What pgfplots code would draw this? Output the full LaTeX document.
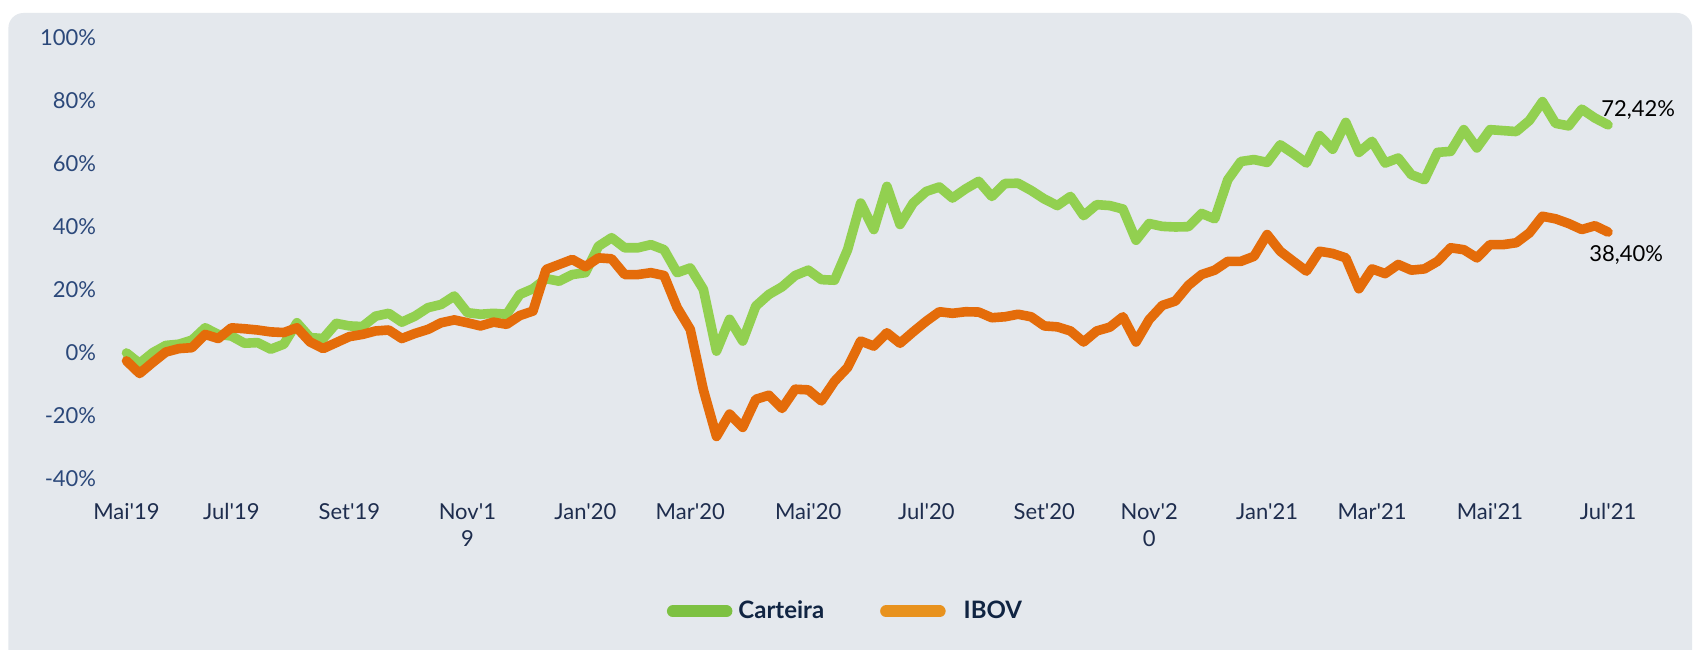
\documentclass[border=0pt]{standalone}
\usepackage{pgfplots}
\pgfplotsset{compat=1.18}
\usepackage{pgfplotstable}
\usepackage{fontspec}
\setmainfont{Lato}[Ligatures=TeXOff]
\definecolor{panel}{RGB}{228,232,237}
\definecolor{cartLine}{RGB}{146,208,80}
\definecolor{ibovLine}{RGB}{228,108,10}
\definecolor{legGreen}{RGB}{125,193,66}
\definecolor{legOrange}{RGB}{232,146,30}
\definecolor{ytext}{RGB}{43,72,122}
\definecolor{xtext}{RGB}{30,45,78}
\definecolor{legtext}{RGB}{16,36,66}

\pgfplotstableread{
k cart ibov
0 0.0 -2.5
1 -3.3 -6.5
2 0.1 -3.0
3 2.4 0.3
4 2.8 1.4
5 4.1 1.7
6 8.0 5.9
7 5.9 4.6
8 5.4 8.0
9 3.1 7.7
10 3.3 7.3
11 1.2 6.7
12 2.8 6.5
13 9.6 8.0
14 4.9 3.5
15 4.6 1.4
16 9.4 3.3
17 8.6 5.2
18 8.4 5.9
19 11.7 7.0
20 12.6 7.3
21 9.8 4.6
22 11.7 6.2
23 14.4 7.5
24 15.4 9.6
25 18.1 10.5
26 12.8 9.6
27 12.3 8.6
28 12.6 9.8
29 12.3 9.1
30 18.6 11.9
31 20.4 13.3
32 23.6 26.5
33 22.8 28.1
34 24.9 29.7
35 25.5 27.4
36 33.9 30.2
37 36.6 29.9
38 33.4 24.9
39 33.4 24.9
40 34.4 25.5
41 32.8 24.6
42 25.5 14.4
43 27.0 7.5
44 20.2 -11.7
45 0.6 -26.5
46 10.7 -19.4
47 3.8 -23.6
48 14.9 -14.7
49 18.6 -13.4
50 21.0 -17.6
51 24.6 -11.5
52 26.3 -11.7
53 23.3 -15.2
54 23.1 -9.0
55 32.8 -4.6
56 47.6 3.8
57 39.2 2.2
58 52.9 6.4
59 40.8 3.1
60 47.6 6.7
61 51.3 10.1
62 52.7 13.1
63 49.2 12.6
64 52.1 13.1
65 54.5 13.0
66 49.7 11.2
67 53.8 11.5
68 53.9 12.3
69 51.6 11.5
70 48.9 8.6
71 46.8 8.3
72 49.7 7.0
73 43.6 3.5
74 47.1 7.0
75 46.8 8.2
76 45.7 11.5
77 35.8 3.5
78 41.1 10.6
79 40.2 15.1
80 40.0 16.5
81 40.1 21.5
82 44.3 24.9
83 42.6 26.3
84 55.0 29.1
85 60.8 29.1
86 61.4 30.7
87 60.5 37.6
88 66.1 32.3
89 63.3 29.1
90 60.3 26.0
91 69.0 32.3
92 64.7 31.6
93 73.2 30.2
94 63.7 20.4
95 67.2 26.7
96 60.3 25.2
97 61.9 28.1
98 56.6 26.3
99 55.0 26.7
100 63.7 29.1
101 64.0 33.4
102 70.9 32.8
103 65.1 30.2
104 70.9 34.4
105 70.6 34.4
106 70.3 35.0
107 73.8 38.1
108 79.8 43.4
109 72.9 42.6
110 72.1 41.1
111 77.4 39.2
112 74.6 40.4
113 72.42 38.40
}\datatable

\begin{document}
\begin{tikzpicture}
\useasboundingbox (0,0) rectangle (848pt,324.5pt);
\fill[white] (0,0) rectangle (848pt,324.5pt);
\fill[panel, rounded corners=7.5pt] (4.2pt,-20pt) rectangle (846pt,318pt);
\begin{axis}[
  at={(63.25pt,85pt)}, anchor=south west,
  scale only axis, width=740.75pt, height=220.5pt,
  xmin=0, xmax=113, ymin=-40, ymax=100,
  enlargelimits=false, clip=false,
  axis line style={draw=none},
  xtick={0,8,17,26,35,43,52,61,70,78,87,95,104,113},
  xticklabels={Mai'19,Jul'19,Set'19,{Nov'1\\9},Jan'20,Mar'20,Mai'20,Jul'20,Set'20,{Nov'2\\0},Jan'21,Mar'21,Mai'21,Jul'21},
  ytick={-40,-20,0,20,40,60,80,100},
  yticklabels={-40\%,-20\%,0\%,20\%,40\%,60\%,80\%,100\%},
  tick style={draw=none},
  xticklabel style={font=\fontsize{11}{13.5}\selectfont, text=xtext, anchor=north, align=center, inner sep=0pt, yshift=-12pt},
  yticklabel style={font=\fontsize{11}{13.5}\selectfont, text=ytext, anchor=east, inner sep=0pt, xshift=-15pt},
  legend columns=2,
  legend style={at={(0.486,-0.300)}, anchor=center, draw=none, fill=none,
    font=\fontsize{12}{14}\selectfont\bfseries, text=legtext,
    /tikz/every even column/.append style={column sep=26pt}},
  legend image code/.code={\draw[#1] (0pt,0pt) -- (26.75pt,0pt);},
]
\addlegendimage{line width=6pt, color=legGreen, line cap=round}
\addlegendentry{\hspace{1pt}Carteira}
\addlegendimage{line width=6pt, color=legOrange, line cap=round}
\addlegendentry{\hspace{7pt}IBOV}
\addplot[forget plot, cartLine, line width=4.8pt, line join=round, line cap=round] table[x=k, y=cart] {\datatable};
\addplot[forget plot, ibovLine, line width=4.8pt, line join=round, line cap=round] table[x=k, y=ibov] {\datatable};
\node[anchor=west, inner sep=0pt, font=\fontsize{11}{13.5}\selectfont, text=black, xshift=-3.5pt, yshift=7.5pt] at (axis cs:113,72.42) {72,42\%};
\node[anchor=west, inner sep=0pt, font=\fontsize{11}{13.5}\selectfont, text=black, xshift=-9.5pt, yshift=-11.5pt] at (axis cs:113,38.40) {38,40\%};
\end{axis}
\end{tikzpicture}
\end{document}
